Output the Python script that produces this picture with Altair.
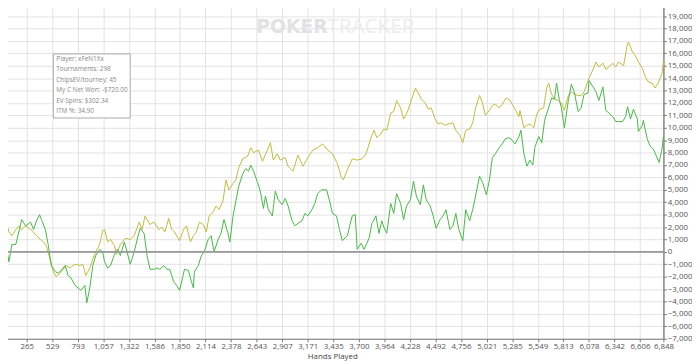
import altair as alt
import pandas as pd

# ---- data ----
ev_hands = [1,31,61,82,112,153,184,214,255,306,337,367,408,439,469,510,541,571,612,643,673,714,745,775,816,847,877,918,949,979,1020,1051,1071,1102,1132,1173,1193,1234,1285,1336,1377,1428,1459,1489,1540,1581,1632,1663,1693,1734,1765,1795,1846,1887,1918,1958,1989,2020,2050,2091,2122,2152,2193,2224,2254,2295,2326,2356,2397,2428,2458,2499,2550,2581,2611,2662,2703,2754,2785,2815,2856,2887,2938,2968,3019,3070,3121,3172,3223,3274,3325,3376,3427,3478,3519,3539,3580,3631,3682,3733,3774,3825,3856,3886,3927,3958,3988,4029,4060,4090,4131,4162,4192,4233,4284,4315,4345,4386,4417,4447,4488,4519,4549,4590,4621,4672,4702,4743,4774,4804,4845,4876,4906,4947,4978,5008,5049,5080,5110,5151,5182,5222,5263,5284,5314,5355,5365,5406,5437,5467,5508,5539,5569,5610,5641,5661,5692,5722,5763,5794,5824,5865,5896,5926,5967,5998,6028,6079,6120,6151,6181,6222,6253,6283,6324,6355,6385,6436,6477,6487,6528,6559,6589,6630,6661,6691,6732,6763,6793,6834,6848]
ev_values = [0,800,2200,1600,1300,1800,2100,1800,2100,1800,1600,1300,1000,800,500,-700,-1600,-2000,-1700,-1400,-1100,-1300,-1100,-1000,-1100,-1000,-1900,-1300,-600,0,600,1700,1800,800,1000,500,-200,600,1100,1000,1300,2400,1800,2900,2200,2400,1800,2000,1600,2700,1800,1600,900,1800,2100,800,1300,1600,2400,2200,1600,2900,3200,3700,3400,4100,5800,5000,5500,5800,6800,7500,7700,8400,8000,8200,7300,8200,8800,7400,7900,7400,7600,6900,6500,7800,6900,7600,8200,8400,8700,8200,7900,7100,6000,5800,6600,7500,7400,7500,7900,9200,9800,9200,9500,9900,9800,11200,11300,12200,11600,10700,11100,12000,13200,12800,12300,12000,11500,11600,10700,10300,10400,10200,10300,10400,9800,9400,8800,9800,9900,10400,11600,12600,12000,11000,11400,11800,11900,11600,11900,12400,12200,11900,11500,10900,11400,10000,10200,10300,10000,11100,11500,11600,13200,13600,12700,12300,12200,12000,11400,12600,12900,12700,12600,12600,12900,14000,14700,15300,14900,15200,14700,14900,15200,14900,15300,15000,16800,16900,16100,15800,15300,14800,14100,13700,13600,13200,13600,14400,15300]

net_hands = [1,20,51,82,112,153,184,214,255,306,337,367,398,418,459,490,520,561,592,622,663,694,724,765,796,826,867,887,918,949,979,1020,1051,1071,1102,1132,1173,1204,1234,1275,1306,1336,1377,1408,1438,1479,1510,1540,1581,1612,1642,1683,1714,1744,1785,1816,1846,1867,1897,1938,1969,1989,1999,2040,2071,2101,2142,2173,2203,2244,2275,2305,2346,2366,2397,2428,2458,2499,2530,2560,2581,2611,2652,2683,2713,2734,2764,2805,2836,2866,2907,2938,2968,3009,3040,3070,3111,3142,3172,3213,3244,3274,3315,3366,3397,3427,3468,3499,3529,3580,3631,3662,3682,3723,3754,3805,3835,3876,3907,3937,3958,3988,4029,4060,4090,4131,4162,4192,4233,4264,4294,4335,4366,4396,4437,4468,4498,4539,4570,4600,4641,4672,4702,4733,4774,4804,4845,4876,4906,4947,4978,5018,5049,5080,5110,5151,5182,5212,5253,5284,5314,5355,5375,5406,5437,5467,5498,5518,5559,5590,5620,5661,5692,5722,5743,5773,5794,5824,5865,5896,5926,5967,5998,6028,6069,6079,6120,6151,6181,6222,6253,6283,6324,6355,6385,6426,6457,6477,6508,6538,6579,6589,6630,6640,6681,6712,6742,6783,6803,6834,6848]
net_values = [0,-300,600,-800,600,600,1600,2600,2100,2400,1800,2500,3000,2600,1800,500,-1100,-1600,-1700,-1500,-1100,-1900,-2100,-2700,-2900,-3100,-2700,-4100,-2900,-1100,-300,200,0,-800,-1300,-1100,-200,200,-300,800,-100,-1000,0,1000,1900,1500,-300,-1400,-1400,-1300,-1400,-1100,-1400,-1400,-2400,-2700,-3100,-2400,-1400,-1500,-2400,-2900,-1600,-1100,-300,0,1000,1300,0,1000,1500,2600,1500,800,2800,4100,5300,6300,6700,6500,7000,6500,5600,4800,3500,4500,3400,2900,4900,4200,3800,4300,3700,2500,2100,2300,2500,3100,2900,3400,3900,4700,5000,5000,4100,3100,2900,1800,900,1300,2900,3000,200,700,200,1100,2300,2900,1500,2500,2000,1500,3900,3100,4700,3900,2600,3700,4200,5700,4500,3800,5400,4200,3700,2900,1900,2600,2900,3400,1800,2100,3100,1800,900,3400,2500,3400,4500,6100,5600,4600,5800,7600,7900,8400,8700,9100,9200,9000,8700,9300,9800,7900,6900,7400,7000,8400,9300,8800,10600,11600,12400,12300,13600,12200,11600,10000,12200,13500,12900,11300,11600,12700,12800,13800,13300,12900,12200,13300,11400,11200,10900,10500,10500,10500,10900,11700,10700,11500,10700,9700,10200,10600,9100,8500,8300,7600,7200,8300,9300]

x_ticks = [1,265,529,793,1057,1322,1586,1850,2114,2378,2643,2907,3171,3435,3700,3964,4228,4492,4756,5021,5285,5549,5813,6078,6342,6606,6848]
y_ticks = list(range(-7000, 20001, 1000))

info_lines = ["Player: xFeN1Xx", "Tournaments: 298", "ChipsEV/tourney: 45",
              "My C Net Won: -$720.00", "EV Spins: $302.34", "ITM %: 34.90"]

df = pd.concat([
    pd.DataFrame({"hands": ev_hands, "value": ev_values, "series": "EV"}),
    pd.DataFrame({"hands": net_hands, "value": net_values, "series": "Net"}),
], ignore_index=True)

W, H = 672, 340
FONT = "Open Sans"
GRID = "#e3e3e3"

xs = alt.Scale(domain=[1, 6848], nice=False, zero=False)
ys = alt.Scale(domain=[-7000, 20000], nice=False)

lines = alt.Chart(df).mark_line(strokeWidth=1, interpolate="linear").encode(
    x=alt.X("hands:Q", scale=xs,
            axis=alt.Axis(values=x_ticks, format=",d", title="Hands Played",
                          labelFontSize=8, labelColor="#555", titleFontSize=8,
                          titleFontWeight="normal", titleColor="#444", titlePadding=2,
                          tickColor="#777", tickSize=3, domainColor="#777",
                          gridColor=GRID, labelPadding=1, labelFlush=False,
                          labelOverlap=False)),
    y=alt.Y("value:Q", scale=ys,
            axis=alt.Axis(orient="right", values=y_ticks, format=",d", title=None,
                          labelFontSize=8, labelColor="#555", tickColor="#777",
                          tickSize=3, domainColor="#888", domainWidth=1.5,
                          gridColor=GRID, labelPadding=1, labelOverlap=False,
                          labelFlush=False)),
    color=alt.Color("series:N", scale=alt.Scale(domain=["EV", "Net"],
                                                range=["#c0bb3c", "#45b845"]),
                    legend=None),
    order=alt.Order("hands:Q"),
)

zero = alt.Chart(pd.DataFrame({"v": [0]})).mark_rule(color="#999999", strokeWidth=2).encode(
    y=alt.Y("v:Q", scale=ys, axis=None))

one = pd.DataFrame({"k": [0]})
watermark1 = alt.Chart(one).mark_text(text="POKER", font="DejaVu Sans", fontSize=19,
                                      fontWeight="bold", color="#e2e2e2",
                                      align="left", baseline="middle").encode(
    x=alt.value(259), y=alt.value(24))
watermark2 = alt.Chart(one).mark_text(text="TRACKER", font=FONT, fontSize=21,
                                      fontWeight="normal", color="#ececec",
                                      align="left", baseline="middle").encode(
    x=alt.value(331), y=alt.value(24))

box = alt.Chart(one).mark_rect(fill="white", stroke="#aaaaaa", strokeWidth=1).encode(
    x=alt.value(53), x2=alt.value(131), y=alt.value(51), y2=alt.value(116))

info_df = pd.DataFrame({"t": info_lines, "i": list(range(len(info_lines)))})
info = alt.Chart(info_df).mark_text(font=FONT, fontSize=6.5, color="#888888",
                                    align="left", baseline="middle").encode(
    x=alt.value(56),
    y=alt.Y("i:Q", scale=alt.Scale(domain=[0, 5], range=[56, 109]), axis=None),
    text="t:N")

chart = alt.layer(watermark1, watermark2, lines, zero, box, info).resolve_scale(
    y="independent"
).properties(
    width=W, height=H,
    autosize=alt.AutoSizeParams(type="none"),
    padding={"left": -7, "top": -7, "right": 29, "bottom": 22},
).configure_view(stroke=None).configure_axis(labelFont=FONT, titleFont=FONT)

chart.save("out.html", embed_options={"renderer": "svg", "actions": False})
